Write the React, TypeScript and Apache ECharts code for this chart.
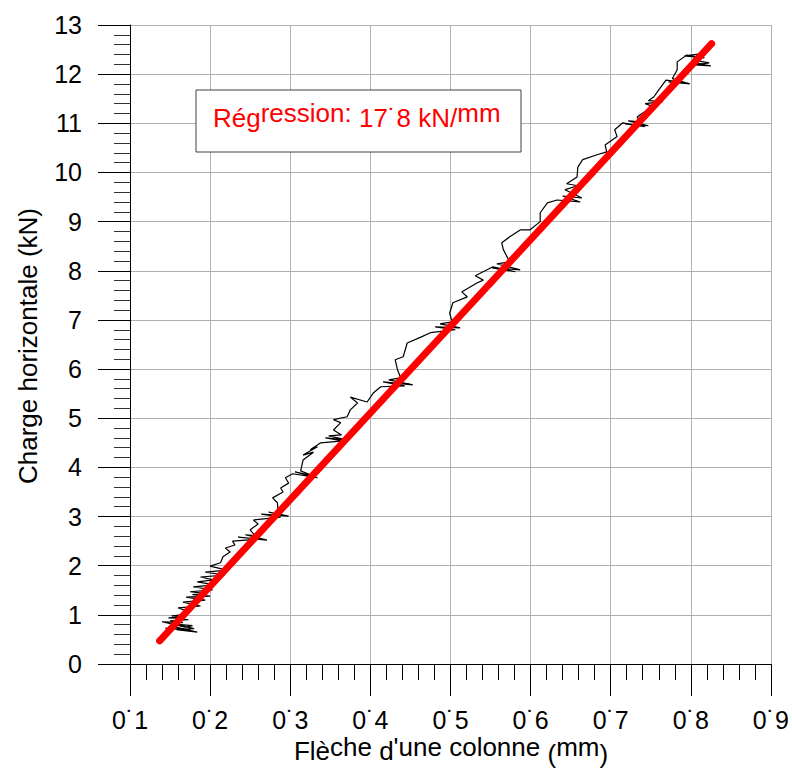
import React, { useEffect, useRef } from "react";
import * as echarts from "echarts";

const X_MIN = 0.1;
const X_MAX = 0.9;
const X_STEP = 0.1;
const Y_MIN = 0;
const Y_MAX = 13;
const Y_STEP = 1;

// Measured curve (flèche mm, charge kN)
const curveX = [
  0.144, 0.175, 0.150, 0.184, 0.158, 0.180, 0.156, 0.178, 0.169, 0.140,
  0.166, 0.150, 0.173, 0.148, 0.170, 0.152, 0.165,
  0.175, 0.160, 0.188, 0.166, 0.194, 0.170, 0.200, 0.178, 0.196, 0.175,
  0.203, 0.179, 0.206, 0.184, 0.204, 0.188, 0.218, 0.194, 0.221, 0.200,
  0.213, 0.216, 0.225, 0.219, 0.231,
  0.228, 0.263, 0.235, 0.271, 0.244, 0.256, 0.250, 0.260, 0.254,
  0.288, 0.264, 0.298, 0.273, 0.285, 0.284, 0.278, 0.291, 0.288, 0.298, 0.294,
  0.303, 0.334, 0.306, 0.328, 0.313, 0.316, 0.329, 0.316, 0.334, 0.325, 0.338,
  0.366, 0.344, 0.370, 0.348, 0.364, 0.354, 0.363, 0.354, 0.371, 0.375, 0.384,
  0.375, 0.396, 0.404, 0.413,
  0.443, 0.416, 0.453, 0.423, 0.438, 0.434, 0.431, 0.441, 0.446, 0.463, 0.475,
  0.506, 0.481, 0.512, 0.487, 0.502, 0.499, 0.503, 0.521, 0.514, 0.533, 0.541,
  0.531, 0.553,
  0.581, 0.552, 0.587, 0.558, 0.574, 0.566, 0.564, 0.574, 0.587, 0.599, 0.612,
  0.612, 0.621, 0.633,
  0.662, 0.640, 0.664, 0.643, 0.659, 0.645, 0.658, 0.659, 0.665, 0.683, 0.695,
  0.693, 0.708, 0.705, 0.715,
  0.743, 0.718, 0.747, 0.722, 0.737, 0.733, 0.740, 0.753,
  0.743, 0.765, 0.747, 0.754, 0.760, 0.769,
  0.797, 0.772, 0.799, 0.777, 0.783, 0.783, 0.795,
  0.817, 0.792, 0.810, 0.802, 0.823, 0.805, 0.825, 0.809,
];
const curveY = [
  0.73, 0.69, 0.77, 0.65, 0.70, 0.72, 0.81, 0.78, 0.75, 0.86,
  0.84, 0.88, 0.90, 0.94, 0.96, 0.98, 1.00,
  1.06, 1.14, 1.18, 1.26, 1.30, 1.36, 1.38, 1.41, 1.43, 1.47,
  1.51, 1.57, 1.61, 1.67, 1.71, 1.77, 1.81, 1.87, 1.91, 1.99,
  2.06, 2.18, 2.28, 2.36, 2.42,
  2.50, 2.54, 2.58, 2.52, 2.63, 2.61, 2.73, 2.85, 2.93,
  2.99, 3.05, 3.01, 3.09, 3.05, 3.28, 3.38, 3.50, 3.58, 3.68, 3.79,
  3.87, 3.79, 3.91, 3.83, 3.93, 4.15, 4.31, 4.25, 4.42, 4.36, 4.50,
  4.54, 4.60, 4.56, 4.64, 4.66, 4.76, 4.91, 4.97, 5.03, 5.17, 5.31,
  5.43, 5.33, 5.52, 5.64,
  5.66, 5.74, 5.68, 5.78, 5.82, 5.98, 6.19, 6.25, 6.53, 6.65, 6.74,
  6.80, 6.86, 6.84, 6.92, 6.96, 7.14, 7.35, 7.47, 7.57, 7.75, 7.81,
  7.90, 8.08,
  7.98, 8.06, 8.02, 8.14, 8.18, 8.43, 8.57, 8.69, 8.83, 8.83, 9.00,
  9.18, 9.38, 9.44,
  9.40, 9.52, 9.48, 9.65, 9.73, 9.77, 9.91, 10.11, 10.26, 10.36, 10.42,
  10.56, 10.73, 10.87, 11.01,
  10.93, 10.99, 10.95, 11.05, 11.03, 11.13, 11.21, 11.34,
  11.40, 11.44, 11.46, 11.54, 11.68, 11.88,
  11.82, 11.84, 11.80, 11.91, 12.09, 12.25, 12.39,
  12.33, 12.37, 12.41, 12.29, 12.23, 12.19, 12.17, 12.21,
];

// Regression line end points
const regX = [0.137, 0.826];
const regY = [0.47, 12.62];

const legendLabel = "Régression: 17˙8 kN/mm";
const xTitle = "Flèche d'une colonne (mm)";
const yTitle = "Charge horizontale (kN)";

const FONT = "'Liberation Sans', Arial, Helvetica, sans-serif";

export default function App() {
  const ref = useRef<HTMLDivElement>(null);

  useEffect(() => {
    if (!ref.current) return;
    const chart = echarts.init(ref.current, undefined, { renderer: "svg" });

    const curve = curveX.map((x, i) => [x, curveY[i]]);
    const reg = regX.map((x, i) => [x, regY[i]]);

    const tok = (pb: number, color: string, size: number, lh?: number) => ({
      fill: color,
      fontSize: size,
      fontFamily: FONT,
      verticalAlign: "bottom",
      padding: [0, 0, pb, 0],
      ...(lh ? { lineHeight: lh } : {}),
    });

    chart.setOption({
      animation: false,
      backgroundColor: "#ffffff",
      grid: { left: 130, right: 21, top: 25, bottom: 109, containLabel: false },
      xAxis: {
        type: "value",
        min: X_MIN,
        max: X_MAX,
        interval: X_STEP,
        axisLine: { show: true, onZero: false, lineStyle: { color: "#000", width: 1 } },
        axisTick: { show: true, length: 32, lineStyle: { color: "#000", width: 1 } },
        minorTick: { show: true, splitNumber: 5, length: 16, lineStyle: { color: "#000", width: 1 } },
        splitLine: { show: true, lineStyle: { color: "#b0b0b0", width: 1 } },
        axisLabel: {
          margin: 47,
          color: "#000",
          fontSize: 25,
          lineHeight: 18,
          fontFamily: FONT,
          formatter: (v: number) => v.toFixed(1).replace(".", "˙"),
        },
      },
      yAxis: {
        type: "value",
        min: Y_MIN,
        max: Y_MAX,
        interval: Y_STEP,
        axisLine: { show: true, onZero: false, lineStyle: { color: "#000", width: 1 } },
        axisTick: { show: true, length: 32, lineStyle: { color: "#000", width: 1 } },
        minorTick: { show: true, splitNumber: 5, length: 16, lineStyle: { color: "#333", width: 1 } },
        splitLine: { show: true, lineStyle: { color: "#b0b0b0", width: 1 } },
        axisLabel: {
          margin: 48,
          color: "#000",
          fontSize: 25,
          fontFamily: FONT,
        },
      },
      series: [
        {
          type: "line",
          data: curve,
          showSymbol: false,
          symbol: "none",
          lineStyle: { color: "#000", width: 1.2 },
          z: 2,
        },
        {
          type: "line",
          data: reg,
          showSymbol: false,
          symbol: "none",
          lineStyle: { color: "#ff0000", width: 7, cap: "round" },
          z: 3,
        },
      ],
      graphic: [
        {
          type: "rect",
          shape: { x: 196, y: 90, width: 325, height: 62 },
          style: { fill: "#fff", stroke: "#404040", lineWidth: 1 },
          z: 10,
        },
        {
          type: "text",
          x: 213,
          y: 115,
          z: 11,
          style: {
            text: "{n|Rég}{u|ression: }{n|17˙8 kN/}{u|mm}",
            verticalAlign: "middle",
            align: "left",
            rich: {
              n: tok(0, "#ff0000", 26),
              u: tok(5, "#ff0000", 26),
            },
          },
        },
        {
          type: "text",
          x: 451,
          y: 756,
          z: 11,
          style: {
            text: "{b|Flè}{u|che}{b| d}{u|'une colonne }{l|(}{u|mm}{l|)}",
            align: "center",
            verticalAlign: "middle",
            rich: {
              l: tok(0, "#000", 26, 22),
              b: tok(3, "#000", 26, 22),
              u: tok(7, "#000", 26, 22),
            },
          },
        },
        {
          type: "text",
          x: 28,
          y: 346,
          rotation: Math.PI / 2,
          z: 11,
          style: {
            text: yTitle,
            fill: "#000",
            fontSize: 26,
            fontFamily: FONT,
            align: "center",
            verticalAlign: "middle",
          },
        },
      ],
    });

    return () => chart.dispose();
  }, []);

  return (
    <div
      ref={ref}
      style={{ position: "fixed", left: 0, top: 0, width: 792, height: 773 }}
      data-legend={legendLabel}
      data-xtitle={xTitle}
    />
  );
}
